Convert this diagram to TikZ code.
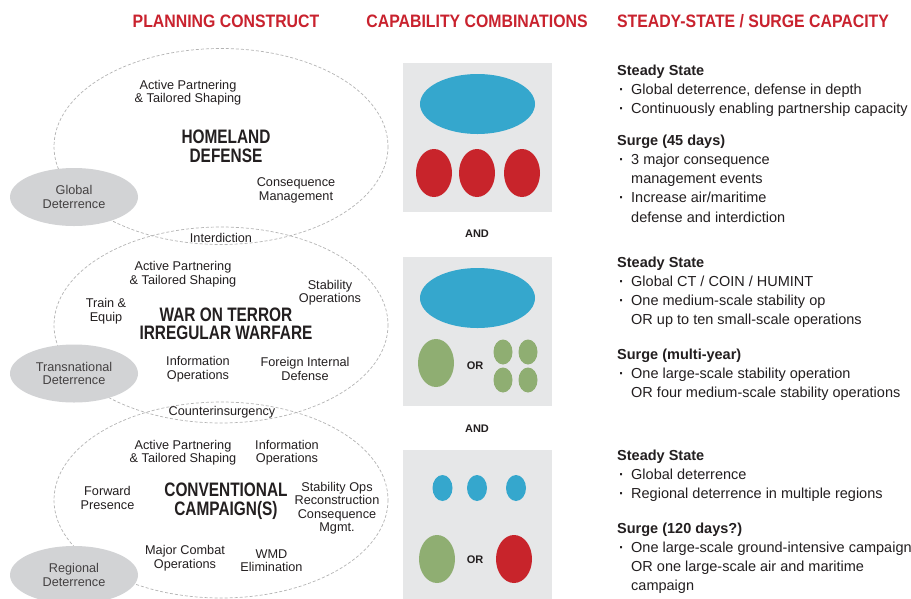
\documentclass[tikz,border=0pt]{standalone}
\usepackage{fontspec}
\setmainfont{Liberation Sans}
\newfontfamily\condfont[FakeStretch=0.79]{Liberation Sans}
\newfontfamily\headfont[FakeStretch=0.88]{Liberation Sans}
\usetikzlibrary{shapes.geometric}
\definecolor{headred}{HTML}{C9222E}
\definecolor{darktext}{HTML}{231F20}
\definecolor{dashgray}{HTML}{B4B4B4}
\definecolor{deterfill}{HTML}{D2D3D5}
\definecolor{boxgray}{HTML}{E6E7E8}
\definecolor{blobblue}{HTML}{35A7CD}
\definecolor{blobred}{HTML}{C8242B}
\definecolor{blobgreen}{HTML}{8FAE72}
\newcommand{\itm}{\makebox[14pt][l]{\hspace{2pt}\textbf{·}}}
\newcommand{\ind}{\hspace*{14pt}}

\begin{document}
\begin{tikzpicture}[x=1pt, y=-1pt,
  header/.style={anchor=base, inner sep=0, text=headred, font=\headfont\bfseries\fontsize{18}{20}\selectfont},
  construct/.style={draw=dashgray, dash pattern=on 3pt off 2pt, line width=0.7pt},
  deterrence/.style={ellipse, fill=deterfill, inner sep=0, minimum width=128pt, minimum height=58pt,
    align=center, text=darktext!85, font=\fontsize{12.7}{13.5}\selectfont},
  task/.style={align=center, inner sep=0, text=darktext, font=\fontsize{12.7}{13.5}\selectfont},
  mission/.style={align=center, inner sep=0, text=darktext, font=\condfont\bfseries\fontsize{19.5}{19.3}\selectfont},
  combo/.style={fill=boxgray},
  joiner/.style={inner sep=0, text=darktext, font=\bfseries\fontsize{11}{12}\selectfont},
  note/.style={anchor=base west, align=left, inner sep=0, text=darktext, font=\fontsize{14.5}{19.3}\selectfont}]

\fill[white] (0,0) rectangle (911,598);
\useasboundingbox (0,0) rectangle (911,598);

% column heads
\node[header] (head-1) at (226,27.5) {PLANNING CONSTRUCT};
\node[header] (head-2) at (477,27.5) {CAPABILITY COMBINATIONS};
\node[header] (head-3) at (753,27.5) {STEADY-STATE / SURGE CAPACITY};

% planning constructs
\foreach \cy in {146.5,325,500}
  \draw[construct] (221,\cy) ellipse [x radius=167, y radius=98];

\node[deterrence] (deter-1) at (74,197) {Global\\Deterrence};
\node[deterrence] (deter-2) at (74,373.5) {Transnational\\Deterrence};
\node[deterrence] (deter-3) at (74,575) {Regional\\Deterrence};

\node[mission] (hd) at (226,146.5) {HOMELAND\\DEFENSE};
\node[task] (hd-1) at (188,92.5) {Active Partnering\\\& Tailored Shaping};
\node[task] (hd-2) at (296,190.5) {Consequence\\Management};
\node[task] (link-1) at (221,237.5) {Interdiction};

\node[mission, font=\condfont\bfseries\fontsize{19.5}{17.5}\selectfont] (wot) at (226,324) {WAR ON TERROR\\IRREGULAR WARFARE};
\node[task] (wot-1) at (183,274) {Active Partnering\\\& Tailored Shaping};
\node[task] (wot-2) at (330,292.5) {Stability\\Operations};
\node[task] (wot-3) at (106,311) {Train \&\\Equip};
\node[task] (wot-4) at (198,369) {Information\\Operations};
\node[task] (wot-5) at (305,369) {Foreign Internal\\Defense};
\node[task] (link-2) at (222,412.5) {Counterinsurgency};

\node[mission] (cc) at (226,501) {CONVENTIONAL\\CAMPAIGN(S)};
\node[task] (cc-1) at (183,452.5) {Active Partnering\\\& Tailored Shaping};
\node[task] (cc-2) at (287,452.5) {Information\\Operations};
\node[task] (cc-3) at (107.5,498) {Forward\\Presence};
\node[task] (cc-4) at (337,508) {Stability Ops\\Reconstruction\\Consequence\\Mgmt.};
\node[task] (cc-5) at (185,558) {Major Combat\\Operations};
\node[task] (cc-6) at (271.5,560.5) {WMD\\Elimination};

% capability combinations
\foreach \top/\bot in {63/212,257/406,450/600}
  \fill[combo] (403,\top) rectangle (552,\bot);

\fill[blobblue] (477.5,104) ellipse [x radius=57.5, y radius=30];
\foreach \cx in {434,477,522}
  \fill[blobred] (\cx,173) ellipse [x radius=18, y radius=24];

\fill[blobblue] (477.5,298) ellipse [x radius=57.5, y radius=30];
\fill[blobgreen] (436,363) ellipse [x radius=18, y radius=24];
\foreach \cx in {503,528}
  \foreach \cy in {352,380}
    \fill[blobgreen] (\cx,\cy) ellipse [x radius=9.5, y radius=12.5];

\foreach \cx in {442.5,477,516}
  \fill[blobblue] (\cx,488) ellipse [x radius=10, y radius=13];
\fill[blobgreen] (437,559) ellipse [x radius=18, y radius=24];
\fill[blobred] (514,559) ellipse [x radius=18, y radius=24];

\node[joiner] (or-1) at (475,366) {OR};
\node[joiner] (or-2) at (475,560) {OR};
\node[joiner] (and-1) at (477,234) {AND};
\node[joiner] (and-2) at (477,429) {AND};

% steady state / surge (base = last line)
\node[note] (note-1) at (617,113.6) {\textbf{Steady State}\\\itm Global deterrence, defense in depth\\\itm Continuously enabling partnership capacity};
\node[note] (note-2) at (617,222.2) {\textbf{Surge (45 days)}\\\itm 3 major consequence\\\ind management events\\\itm Increase air/maritime\\\ind defense and interdiction};
\node[note] (note-3) at (617,324.9) {\textbf{Steady State}\\\itm Global CT / COIN / HUMINT\\\itm One medium-scale stability op\\\ind OR up to ten small-scale operations};
\node[note] (note-4) at (617,397.6) {\textbf{Surge (multi-year)}\\\itm One large-scale stability operation\\\ind OR four medium-scale stability operations};
\node[note] (note-5) at (617,498.6) {\textbf{Steady State}\\\itm Global deterrence\\\itm Regional deterrence in multiple regions};
\node[note] (note-6) at (617,590.9) {\textbf{Surge (120 days?)}\\\itm One large-scale ground-intensive campaign\\\ind OR one large-scale air and maritime\\\ind campaign};

\end{tikzpicture}
\end{document}
